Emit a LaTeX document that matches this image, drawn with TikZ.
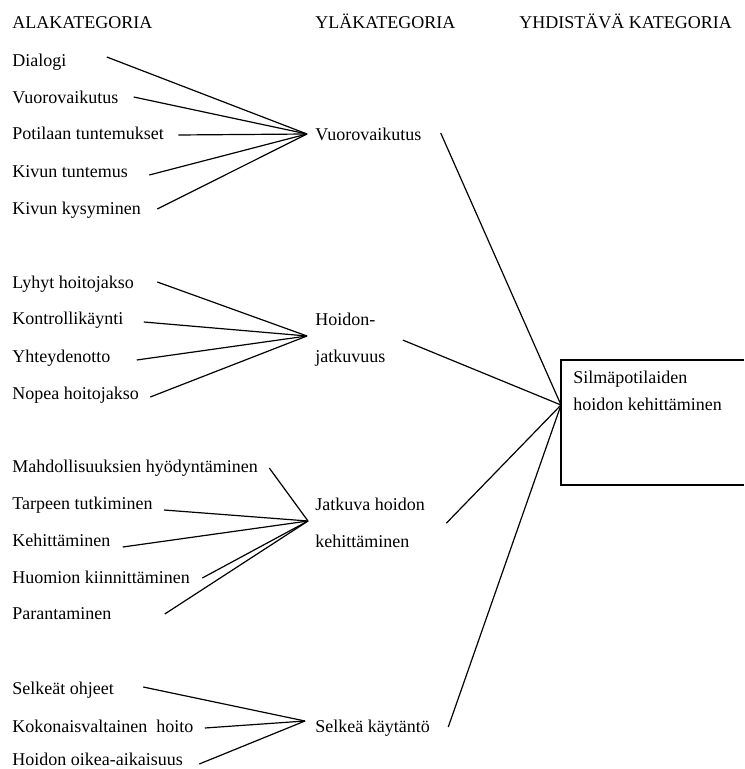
\documentclass[tikz,border=0pt]{standalone}
\usepackage{fontspec}
\setmainfont{Liberation Serif}
\usepackage{tikz}

\begin{document}
\begin{tikzpicture}[x=0.5pt,y=-0.5pt]
\tikzstyle{txt}=[anchor=west,inner sep=0,text height=8.5pt,text depth=2pt,font=\fontsize{9}{18.5}\selectfont]
\tikzstyle{two}=[anchor=north west,inner sep=0,align=left,font=\fontsize{9}{18.5}\selectfont]
\tikzstyle{ln}=[line width=0.6pt]
\useasboundingbox (0,0) rectangle (744,769);
% column heads
\node[txt] (ala) at (12,22) {ALAKATEGORIA};
\node[txt] (yla) at (315,22) {YLÄKATEGORIA};
\node[txt] (yhdk) at (519,22) {YHDISTÄVÄ KATEGORIA};
% hubs
\coordinate (h1) at (307,134);
\coordinate (h2) at (307,336);
\coordinate (h3) at (308,521);
\coordinate (h4) at (305,721);
\coordinate (yin) at (561,405);
% combining category
\draw[line width=0.8pt] (744,360) -| (561,485) -- (744,485);
\node[two,font=\fontsize{9}{13.5}\selectfont] (yhd) at (573,371) {Silmäpotilaiden\\hoidon kehittäminen};
% upper categories
\node[txt] (y1) at (315,134) {Vuorovaikutus};
\node[two] (y2) at (315,313) {Hoidon-\\jatkuvuus};
\node[two] (y3) at (315,498) {Jatkuva hoidon\\kehittäminen};
\node[txt] (y4) at (315,726) {Selkeä käytäntö};
% sub categories
\node[txt] (a1) at (12,60) {Dialogi};
\node[txt] (a2) at (12,97) {Vuorovaikutus};
\node[txt] (a3) at (12,133) {Potilaan tuntemukset};
\node[txt] (a4) at (12,171) {Kivun tuntemus};
\node[txt] (a5) at (12,208) {Kivun kysyminen};
\node[txt] (b1) at (12,282) {Lyhyt hoitojakso};
\node[txt] (b2) at (12,318) {Kontrollikäynti};
\node[txt] (b3) at (12,356) {Yhteydenotto};
\node[txt] (b4) at (12,393) {Nopea hoitojakso};
\node[txt] (c1) at (12,466) {Mahdollisuuksien hyödyntäminen};
\node[txt] (c2) at (12,503) {Tarpeen tutkiminen};
\node[txt] (c3) at (12,540) {Kehittäminen};
\node[txt] (c4) at (12,577) {Huomion kiinnittäminen};
\node[txt] (c5) at (12,613) {Parantaminen};
\node[txt] (d1) at (12,688) {Selkeät ohjeet};
\node[txt] (d2) at (12,726) {Kokonaisvaltainen~ hoito};
\node[txt] (d3) at (12,759) {Hoidon oikea-aikaisuus};
% connectors
\draw[ln] ([shift={(40,-3)}]a1.east) -- (h1);
\draw[ln] ([shift={(15,0)}]a2.east) -- (h1);
\draw[ln] ([shift={(14,2)}]a3.east) -- (h1);
\draw[ln] ([shift={(21,4)}]a4.east) -- (h1);
\draw[ln] ([shift={(16,1)}]a5.east) -- (h1);
\draw[ln] ([shift={(23,0)}]b1.east) -- (h2);
\draw[ln] ([shift={(20,4)}]b2.east) -- (h2);
\draw[ln] ([shift={(26,4)}]b3.east) -- (h2);
\draw[ln] ([shift={(11,4)}]b4.east) -- (h2);
\draw[ln] ([shift={(11,2)}]c1.east) -- (h3);
\draw[ln] ([shift={(11,7)}]c2.east) -- (h3);
\draw[ln] ([shift={(12,7)}]c3.east) -- (h3);
\draw[ln] ([shift={(12,1)}]c4.east) -- (h3);
\draw[ln] ([shift={(53,1)}]c5.east) -- (h3);
\draw[ln] ([shift={(29,-1)}]d1.east) -- (h4);
\draw[ln] ([shift={(11,2)}]d2.east) -- (h4);
\draw[ln] ([shift={(16,5)}]d3.east) -- (h4);
\draw[ln] ([shift={(19,-1)}]y1.east) -- (yin);
\draw[ln] ([shift={(17,0)}]y2.east) -- (yin);
\draw[ln] ([shift={(21,0)}]y3.east) -- (yin);
\draw[ln] ([shift={(18,1)}]y4.east) -- (yin);
\end{tikzpicture}
\end{document}
